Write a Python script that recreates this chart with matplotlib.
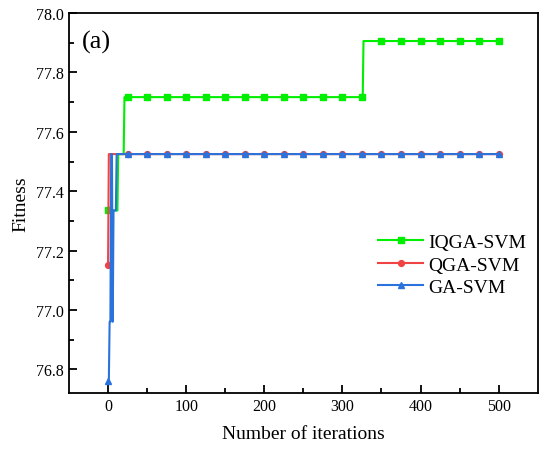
import numpy as np
import matplotlib.pyplot as plt

# change points (iteration, fitness)
iqga_iter = [0, 13, 21, 327]
iqga_fit = [77.335, 77.525, 77.717, 77.906]

qga_iter = [0, 1]
qga_fit = [77.15, 77.525]

ga_iter = [0, 2, 4, 6, 7, 11]
ga_fit = [76.76, 76.96, 77.525, 76.96, 77.335, 77.525]

n_iter = 500
labels = ['IQGA-SVM', 'QGA-SVM', 'GA-SVM']


def expand(it, val):
    # hold each value until the next change point
    x = np.arange(n_iter + 1)
    idx = np.searchsorted(it, x, side='right') - 1
    return x, np.array(val)[idx]


plt.rcParams['font.family'] = ['Liberation Serif', 'DejaVu Serif']

fig = plt.figure(figsize=(5.39, 4.56), dpi=100)
ax = fig.add_axes([0.128, 0.136, 0.8696, 0.833])

x, y = expand(iqga_iter, iqga_fit)
ax.plot(x, y, '-s', color='#00ee00', lw=1.5, ms=4.0, markevery=25, label=labels[0])
x, y = expand(qga_iter, qga_fit)
ax.plot(x, y, '-o', color='#f04444', lw=1.5, ms=4.2, markevery=25, label=labels[1])
x, y = expand(ga_iter, ga_fit)
ax.plot(x, y, '-^', color='#2a72dc', lw=1.5, ms=4.4, markevery=25, label=labels[2])

ax.set_xlim(-50, 550)
ax.set_ylim(76.72, 78.0)
ax.set_xticks(np.arange(0, 501, 100))
ax.set_xticks(np.arange(50, 501, 100), minor=True)
ax.set_yticks(np.round(np.arange(76.8, 78.01, 0.2), 1))
ax.set_yticks(np.round(np.arange(76.9, 78.0, 0.2), 1), minor=True)
ax.yaxis.set_major_formatter(plt.FormatStrFormatter('%.1f'))
ax.tick_params(which='both', direction='in', labelsize=11.5, width=1.3)
ax.tick_params(which='major', length=6)
ax.tick_params(which='minor', length=3.5)
for s in ax.spines.values():
    s.set_linewidth(1.3)

ax.set_xlabel('Number of iterations', fontsize=14, labelpad=8)
ax.set_ylabel('Fitness', fontsize=14, labelpad=5)
ax.text(0.028, 0.955, '(a)', transform=ax.transAxes, fontsize=19, va='top')

ax.legend(loc='upper left', bbox_to_anchor=(0.66, 0.42), frameon=False,
          fontsize=14, handlelength=2.3, handletextpad=0.25, labelspacing=0.25,
          borderpad=0, borderaxespad=0)

fig.savefig('out.png', dpi=100)
